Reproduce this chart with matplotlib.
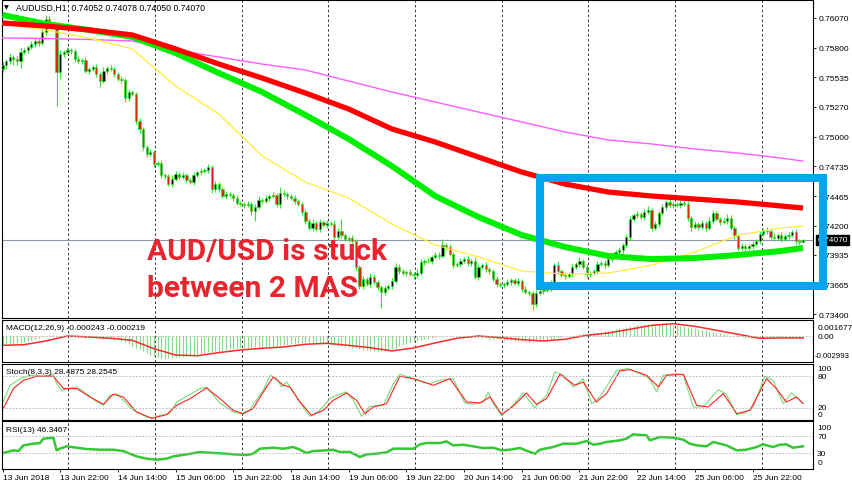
import numpy as np
import matplotlib
matplotlib.use('Agg')
import matplotlib.pyplot as plt
from matplotlib.patches import Rectangle

plt.rcParams['font.family'] = ['Liberation Sans', 'DejaVu Sans']

# ---- price data (H1 candles, bar 0 = 13 Jun 06:00) ----
first_open = 0.75610
closes = [
    0.75646, 0.75682, 0.75718, 0.75700, 0.75682, 0.75763, 0.75781, 0.75809, 0.75836, 0.75863,
    0.75845, 0.75944, 0.76061, 0.76016, 0.76007, 0.75583, 0.75745, 0.75763, 0.75781, 0.75772,
    0.75700, 0.75682, 0.75691, 0.75592, 0.75610, 0.75628, 0.75565, 0.75502, 0.75592, 0.75619,
    0.75610, 0.75565, 0.75520, 0.75511, 0.75349, 0.75403, 0.75385, 0.75142, 0.75070, 0.74908,
    0.74844, 0.74862, 0.74754, 0.74763, 0.74655, 0.74646, 0.74574, 0.74619, 0.74664, 0.74637,
    0.74655, 0.74610, 0.74592, 0.74655, 0.74682, 0.74691, 0.74700, 0.74727, 0.74529, 0.74574,
    0.74529, 0.74466, 0.74484, 0.74475, 0.74448, 0.74403, 0.74394, 0.74385, 0.74394, 0.74331,
    0.74367, 0.74430, 0.74421, 0.74448, 0.74466, 0.74475, 0.74394, 0.74493, 0.74484, 0.74466,
    0.74448, 0.74421, 0.74394, 0.74322, 0.74241, 0.74178, 0.74223, 0.74169, 0.74232, 0.74205,
    0.74223, 0.74214, 0.74097, 0.74151, 0.74115, 0.74079, 0.74088, 0.74061, 0.73826, 0.73655,
    0.73718, 0.73673, 0.73736, 0.73691, 0.73646, 0.73601, 0.73637, 0.73655, 0.73700, 0.73826,
    0.73790, 0.73772, 0.73781, 0.73763, 0.73754, 0.73772, 0.73871, 0.73880, 0.73880, 0.73917,
    0.73935, 0.73926, 0.74025, 0.74007, 0.73944, 0.73844, 0.73853, 0.73880, 0.73898, 0.73862,
    0.73880, 0.73736, 0.73826, 0.73844, 0.73808, 0.73790, 0.73718, 0.73673, 0.73664, 0.73673,
    0.73691, 0.73709, 0.73682, 0.73700, 0.73628, 0.73601, 0.73592, 0.73493, 0.73592, 0.73610,
    0.73619, 0.73637, 0.73682, 0.73844, 0.73790, 0.73754, 0.73745, 0.73763, 0.73826, 0.73853,
    0.73880, 0.73826, 0.73763, 0.73772, 0.73790, 0.73853, 0.73862, 0.73844, 0.73898, 0.73935,
    0.73962, 0.73980, 0.74025, 0.74097, 0.74259, 0.74295, 0.74304, 0.74277, 0.74322, 0.74340,
    0.74178, 0.74214, 0.74313, 0.74367, 0.74412, 0.74385, 0.74394, 0.74385, 0.74403, 0.74394,
    0.74268, 0.74187, 0.74214, 0.74187, 0.74223, 0.74178, 0.74241, 0.74313, 0.74259, 0.74232,
    0.74241, 0.74268, 0.74178, 0.74106, 0.73998, 0.74016, 0.73998, 0.74016, 0.74034, 0.74061,
    0.74124, 0.74160, 0.74151, 0.74097, 0.74088, 0.74115, 0.74079, 0.74106, 0.74115, 0.74142,
    0.74061, 0.74052, 0.74070,
]
upper_wick_pips = [
    3, 2, 4, 2, 3, 4, 2, 2, 3, 2, 3, 4, 4, 3, 2, 3, 4, 2, 3, 2,
    2, 3, 2, 3, 2, 2, 3, 2, 4, 2, 3, 2, 2, 3, 2, 3, 2, 2, 3, 2,
    2, 3, 2, 2, 3, 2, 2, 4, 3, 2, 3, 2, 2, 3, 2, 3, 2, 3, 2, 3,
    2, 2, 3, 2, 2, 3, 2, 2, 3, 2, 3, 4, 2, 3, 2, 3, 2, 5, 3, 2,
    2, 3, 2, 2, 3, 2, 4, 2, 3, 2, 3, 2, 4, 3, 11, 2, 2, 3, 2, 2,
    3, 2, 4, 3, 2, 2, 3, 2, 3, 4, 3, 2, 2, 3, 2, 4, 3, 2, 3, 2,
    3, 3, 5, 2, 3, 2, 2, 3, 2, 3, 2, 4, 3, 2, 3, 2, 2, 3, 2, 2,
    3, 2, 2, 3, 2, 3, 2, 2, 3, 2, 2, 3, 3, 2, 4, 2, 3, 2, 3, 2,
    4, 2, 3, 2, 2, 3, 2, 3, 2, 3, 2, 3, 2, 3, 3, 2, 3, 2, 3, 4,
    2, 3, 2, 3, 2, 3, 2, 2, 3, 2, 3, 2, 3, 2, 3, 2, 4, 3, 2, 2,
    3, 4, 3, 2, 2, 3, 2, 2, 3, 2, 3, 2, 3, 3, 4, 2, 3, 2, 3, 2,
    3, 2, 1,
]
lower_wick_pips = [
    3, 4, 3, 5, 4, 6, 2, 3, 2, 3, 3, 2, 3, 2, 3, 31, 6, 3, 2, 3,
    3, 2, 3, 2, 3, 2, 3, 5, 2, 3, 2, 3, 2, 3, 4, 3, 2, 3, 4, 3,
    3, 2, 3, 2, 3, 3, 2, 3, 2, 3, 2, 3, 2, 3, 2, 3, 2, 3, 4, 3,
    3, 2, 3, 2, 3, 2, 2, 3, 2, 4, 9, 2, 3, 2, 3, 2, 3, 4, 2, 3,
    2, 3, 2, 3, 3, 2, 3, 2, 3, 2, 3, 2, 3, 2, 3, 2, 3, 2, 3, 3,
    3, 2, 3, 2, 3, 14, 3, 2, 3, 2, 3, 2, 3, 2, 4, 3, 2, 3, 2, 3,
    2, 3, 2, 3, 2, 3, 2, 3, 2, 3, 3, 2, 3, 2, 3, 3, 2, 3, 2, 3,
    2, 3, 2, 3, 3, 2, 3, 5, 3, 2, 3, 2, 3, 2, 3, 2, 3, 2, 3, 2,
    3, 2, 4, 3, 2, 3, 2, 3, 2, 3, 3, 2, 3, 2, 3, 2, 3, 2, 3, 2,
    3, 2, 3, 2, 3, 2, 3, 2, 3, 2, 3, 4, 2, 3, 2, 3, 2, 3, 2, 3,
    2, 3, 2, 3, 3, 2, 3, 2, 3, 2, 3, 2, 3, 2, 3, 2, 3, 2, 3, 2,
    3, 2, 0,
]

# ---- moving averages, read every 12 bars ----
ma_bars = [0, 12, 24, 36, 48, 60, 72, 84, 96, 108, 120, 132, 144, 156, 168, 180, 192, 204, 216, 222]
ma_red = [0.76025, 0.75998, 0.75962, 0.75917, 0.75791, 0.75655, 0.75529, 0.75394, 0.75250, 0.75070,
          0.74953, 0.74817, 0.74682, 0.74574, 0.74502, 0.74466, 0.74439, 0.74412, 0.74376, 0.74358]
ma_green = [0.76097, 0.76016, 0.75962, 0.75899, 0.75754, 0.75574, 0.75403, 0.75196, 0.74980, 0.74736,
            0.74466, 0.74277, 0.74115, 0.74007, 0.73926, 0.73898, 0.73907, 0.73935, 0.73971, 0.73998]
ma_yellow = [0.76016, 0.75962, 0.75890, 0.75791, 0.75457, 0.75205, 0.74826, 0.74592, 0.74448, 0.74214,
             0.74025, 0.73917, 0.73790, 0.73763, 0.73772, 0.73844, 0.73962, 0.74115, 0.74178, 0.74196]
ma_magenta = [0.75890, 0.75885, 0.75876, 0.75863, 0.75782, 0.75718, 0.75655, 0.75601, 0.75502, 0.75403,
              0.75313, 0.75223, 0.75133, 0.75043, 0.74971, 0.74935, 0.74890, 0.74853, 0.74808, 0.74781]

# ---- MACD(12,26,9), units of 1e-5 ----
macd_hist = [
    -115, -113, -112, -105, -95, -85, -75, -63, -50, -35, -20, -5, 8, 18, 20, 15, 8, 2, -3, -6,
    -9, -12, -15, -18, -22, -25, -27, -30, -34, -38, -42, -48, -54, -65, -80, -100, -125, -150, -175, -200,
    -225, -248, -268, -283, -294, -299, -296, -290, -283, -276, -270, -262, -253, -244, -235, -226, -218, -211, -204, -197,
    -190, -184, -178, -172, -167, -163, -160, -157, -154, -151, -148, -145, -142, -138, -134, -129, -124, -119, -114, -110,
    -105, -100, -95, -91, -88, -86, -86, -88, -92, -98, -104, -110, -118, -126, -133, -140, -146, -152, -160, -170,
    -180, -188, -194, -198, -200, -198, -192, -183, -172, -152, -130, -118, -105, -92, -78, -66, -55, -42, -30, -18,
    -8, 0, 2, 4, 5, 3, 0, -3, -6, -10, -13, -16, -20, -24, -28, -32, -36, -40, -43, -45,
    -47, -52, -57, -62, -66, -69, -70, -68, -64, -58, -52, -46, -40, -30, -20, -10, 0, 7, 13, 18,
    24, 29, 34, 39, 44, 50, 57, 64, 72, 80, 93, 104, 115, 125, 134, 140, 146, 152, 158, 163,
    166, 168, 168, 167, 165, 160, 154, 147, 140, 133, 124, 115, 106, 97, 88, 80, 70, 60, 50, 40,
    30, 20, 10, 0, -8, -15, -20, -24, -26, -26, -25, -24, -23, -22, -22, -22, -22, -23, -23, -24,
    -24, -24, -24,
]
signal_bars = [0, 6, 12, 18, 24, 30, 36, 42, 48, 54, 60, 66, 72, 78, 84, 90, 96, 102, 108, 114,
               120, 126, 132, 138, 144, 150, 156, 162, 168, 174, 180, 186, 192, 198, 204, 210, 216, 222]
macd_signal = [-121, -112, -63, 4, -9, -27, -54, -165, -250, -260, -218, -183, -160, -143, -107, -94, -121, -152, -196, -156,
               -89, -27, 4, -18, -45, -63, -40, 13, 44, 93, 146, 168, 133, 80, 26, -27, -22, -22]

# ---- Stochastic(8,3,3) ----
k_bars = [0.2, 2.1, 4.9, 7.6, 11.3, 14.1, 15, 16.4, 17.8, 20.6, 23.3, 26.1, 28, 29.8, 31.7, 33.5, 36.3, 40, 41.4, 43.7,
          46.4, 48.3, 51.1, 54.8, 56.6, 58.5, 60.3, 64, 66.3, 68.6, 72.3, 74.2, 76, 77.4, 78.8, 80.6, 84.3, 85.3, 88, 90.8,
          92.6, 95.4, 97.3, 99.6, 101.9, 105.6, 108.4, 110.2, 113.9, 118.5, 121.3, 125, 128.2, 130.5, 133.3, 134.7, 136.1,
          138.4, 140.7, 144.4, 147.6, 150.9, 153.2, 155.5, 158.3, 161, 163.4, 165.7, 170.3, 173.5, 176.8, 179.5, 181.4,
          183.2, 187, 188.8, 191.6, 194.3, 198.5, 200.8, 203.6, 205.9, 208.2, 211.4, 213.7, 216.5, 218.8, 222]
k_vals = [30.9, 62.4, 75, 81.4, 79.5, 83.3, 65.6, 51.7, 56.1, 59.3, 46.7, 30.9, 24.6, 43.5, 46.7, 34, 15.1, 2.5, 0, 5.6,
          8.8, 30.9, 41.6, 56.1, 59.3, 43.5, 29, 11.9, 8.8, 16.4, 53, 81.4, 75, 59.3, 68.7, 49.8, 11.9, 3.8, 15.1, 37.2,
          43.5, 49.8, 34, 3.8, 22.7, 24.6, 65.6, 83.3, 75, 65.6, 71.9, 75, 29, 26.5, 30.9, 49.8, 27.7,
          5.6, 18.2, 47.9, 20.1, 43.5, 87.7, 81.4, 59.3, 75, 27.7, 40.3, 90.8, 94, 84.5, 75, 49.8,
          81.4, 84.5, 81.4, 21.4, 21.4, 54.2, 45.4, 7.5, 10, 21.4, 79.5, 71.9, 27.7, 47.9, 28.49]
d_bars = [0.2, 3, 5.8, 9.5, 14.1, 16.9, 20.6, 24.3, 28, 30.7, 33.5, 37.2, 41.4, 45.5, 48.3, 52, 56.6, 60.3, 64, 66.8,
          69.5, 73.2, 75.1, 77.9, 79.7, 82.5, 85.7, 89, 91.7, 95.4, 98.2, 100.5, 102.8, 106.5, 110.2, 113.9,
          119.5, 124.1, 128.7, 132.4, 135.2, 138.4, 141.6, 145.3, 148.1, 150.9, 154.6, 158.7, 161, 164.7, 167.5,
          171.2, 174, 178.6, 181.9, 184.2, 188.8, 192.5, 195.7, 199.9, 203.6, 207.3, 211.9, 214.6, 217.4, 220.2, 222]
d_vals = [18.2, 56.1, 71.9, 79.5, 79.5, 56.1, 56.1, 40.3, 26.5, 45.4, 40.3, 11.9, 0, 6.9, 24.6, 37.2, 57.4, 37.2, 15.1, 8.8,
          18.2, 59.3, 78.2, 62.4, 59.3, 30.9, 5.6, 15.1, 34, 47.9, 34, 8.8, 21.4, 27.7, 79.5, 75,
          62.4, 75, 30.9, 29, 40.3, 7.5, 22.7, 47.9, 26.5, 37.2, 83.3, 62.4, 68.7, 30.9, 46.7,
          89.6, 92.1, 81.4, 59.3, 81.4, 83.3, 24.6, 21.4, 46.7, 8.8, 15.1, 75, 56.1, 30.9, 40.3, 28.25]

# ---- RSI(13) ----
rsi_bars = [0.2, 3, 4.4, 5.8, 8.5, 10.4, 11.3, 14.1, 15, 15.9, 17.8, 20.6, 23.3, 27, 30.7, 33.5, 35.3, 37.2, 40, 42.7,
            45.5, 47.4, 51.1, 54.8, 58.5, 62.2, 64, 67.7, 69.5, 71.4, 75.1, 77.9, 80.6, 82.5, 84.3, 86.2, 89.9, 91.7, 93.6, 96.4,
            99.1, 101, 103.7, 106.5, 108.4, 113.9, 115.8, 117.6, 121.3, 123.1, 125, 127.8, 130.5, 133.3, 136.1, 138.4, 140.7,
            143.5, 146.3, 147.7, 149, 152.7, 155.5, 159.2, 162, 163.8, 165.7, 167.5, 171.2, 173, 174.9, 178.6, 179.5, 182.3,
            186, 188.8, 190.6, 192.5, 195.2, 197.1, 200.8, 203.6, 206.3, 209.1, 210.9, 213.7, 215.6, 217.4, 219.2, 222]
rsi_vals = [30.6, 36.9, 35.3, 48.6, 52.5, 54.1, 64.3, 66.7, 36.9, 40.8, 46.3, 43.1, 40, 38.4, 38.4, 35.3, 29, 22.7, 17.3, 14.9,
            17.3, 22.7, 27.5, 32.9, 30.6, 29, 27.5, 25.9, 29, 40.8, 43.1, 40.8, 44.7, 38.4, 30.6, 35.3, 36.9, 38.4, 32.9, 32.9,
            21.2, 27.5, 29, 32.2, 40.8, 40.8, 51, 54.1, 54.1, 58, 48.6, 50.2, 46.3, 42.4, 43.1, 36.9, 38.4,
            42.4, 32.9, 29, 38.4, 44.7, 52.5, 52.5, 58.8, 50.2, 52.5, 56.5, 60.4, 64.3, 74.5, 72.2, 60.4, 68.2,
            66.7, 62, 52.5, 48.6, 46.3, 56.5, 48.6, 36.9, 38.4, 44.7, 51, 44.7, 50.2, 51, 43.1, 46.35]

date_labels = ['13 Jun 2018', '13 Jun 22:00', '14 Jun 14:00', '15 Jun 06:00', '15 Jun 22:00', '18 Jun 14:00',
               '19 Jun 06:00', '19 Jun 22:00', '20 Jun 14:00', '21 Jun 06:00', '21 Jun 22:00', '22 Jun 14:00',
               '25 Jun 06:00', '25 Jun 22:00']
price_ticks = [0.76070, 0.75800, 0.75535, 0.75270, 0.75000, 0.74735, 0.74465, 0.74200, 0.73935, 0.73665, 0.73400]
last_price = 0.74070

# ---- layout (pixel boxes) ----
W, H = 852, 485


def box(x0, y0, x1, y1):
    return [x0 / W, 1 - y1 / H, (x1 - x0) / W, (y1 - y0) / H]


fig = plt.figure(figsize=(W / 100, H / 100), dpi=100)
fig.patch.set_facecolor('white')
ax = fig.add_axes(box(2, 1, 813, 319))
axm = fig.add_axes(box(2, 321, 813, 363))
axs = fig.add_axes(box(2, 365, 813, 421))
axr = fig.add_axes(box(2, 422, 813, 470))

xmin, xmax = -0.14, 224.77
grid_x = 18.25 + 24.03 * np.arange(9)
for a in (ax, axm, axs, axr):
    a.set_xlim(xmin, xmax)
    for s in a.spines.values():
        s.set_linewidth(0.8)
        s.set_color('black')
    for gx in grid_x:
        a.axvline(gx, color='#333333', lw=0.7, ls=(0, (2.5, 2.5)), zorder=0.5)
    a.tick_params(left=False, labelleft=False, bottom=False, labelbottom=False)

# ---- candles ----
c = np.array(closes)
o = np.array([first_open] + closes[:-1])
idx = np.arange(len(c))
hi = np.maximum(o, c) + np.array(upper_wick_pips) * 1e-4
lo = np.minimum(o, c) - np.array(lower_wick_pips) * 1e-4
ax.vlines(idx, lo, hi, color='#2ee82e', lw=0.8, zorder=2)
up = c >= o
body_h = np.maximum(np.abs(c - o), 0.00002)
ax.bar(idx, body_h, bottom=np.minimum(o, c), width=0.62,
       color=np.where(up, '#000000', '#d8261c'), edgecolor='#2ee82e', linewidth=0.5, zorder=3)

ax.plot(ma_bars, ma_magenta, color='#ff5cff', lw=1.0, zorder=4)
ax.plot(ma_bars, ma_yellow, color='#ffee30', lw=0.9, zorder=4)
ax.plot(ma_bars, ma_green, color='#00ee00', lw=4.3, zorder=4, solid_capstyle='butt', solid_joinstyle='round')
ax.plot(ma_bars, ma_red, color='#ff0000', lw=3.8, zorder=4, solid_capstyle='butt', solid_joinstyle='round')
ax.axhline(last_price, color='#8a98a8', lw=0.8, zorder=1)

ax.set_ylim(0.73367, 0.76232)
ax.yaxis.tick_right()
ax.set_yticks(price_ticks)
ax.set_yticklabels([f'{v:.5f}' for v in price_ticks])
ax.tick_params(axis='y', right=True, labelright=True, labelsize=6, length=2.5, width=0.6, pad=1.5)
ax.annotate(f'{last_price:.5f}', xy=(1, last_price), xycoords=('axes fraction', 'data'),
            xytext=(3, 0), textcoords='offset points', color='white', fontsize=6, va='center',
            bbox=dict(boxstyle='square,pad=0.2', fc='black', ec='black'), annotation_clip=False, zorder=6)

# ---- MACD ----
hist = np.array(macd_hist) * 1e-5
axm.vlines(idx, 0, hist, color='#86dc86', lw=0.8)
axm.plot(signal_bars, np.array(macd_signal) * 1e-5, color='#ff2a2a', lw=1.1)
axm.axhline(0, color='#b0b0b0', lw=0.6, ls=(0, (2, 2)))
axm.set_ylim(-0.003433, 0.002171)

# ---- Stochastic ----
axs.plot(k_bars, k_vals, color='#78dd78', lw=0.8)
axs.plot(d_bars, d_vals, color='#ff2222', lw=0.8)
for lv in (80, 20):
    axs.axhline(lv, color='#b0b0b0', lw=0.6, ls=(0, (2, 2)))
axs.set_ylim(-3.2, 102.7)

# ---- RSI ----
axr.plot(rsi_bars, rsi_vals, color='#35c835', lw=1.8)
for lv in (70, 30):
    axr.axhline(lv, color='#b0b0b0', lw=0.6, ls=(0, (2, 2)))
axr.set_ylim(-7, 105.9)


def side_labels(a, items, size=6, dx=3):
    for txt, val, va in items:
        a.annotate(txt, xy=(1, val), xycoords=('axes fraction', 'data'), xytext=(dx, 0),
                   textcoords='offset points', fontsize=size, va=va, annotation_clip=False)


side_labels(axm, [('0.001677', 0.001677, 'top'), ('0.00', 0, 'center')])
side_labels(axm, [('-0.002993', -0.002993, 'bottom')], size=5.6, dx=1.2)
side_labels(axs, [('100', 100, 'top'), ('80', 80, 'center'), ('20', 20, 'center'), ('0', 0, 'bottom')])
side_labels(axr, [('100', 100, 'top'), ('70', 70, 'center'), ('30', 30, 'center'), ('0', 0, 'bottom')])

axr.set_xticks(16 * np.arange(len(date_labels)))
axr.set_xticklabels(date_labels, ha='left')
axr.tick_params(axis='x', bottom=True, labelbottom=True, labelsize=6, length=2.5, width=0.6, pad=1)

# ---- texts ----
fig.text(4 / W, 1 - 8 / H, '\u25bc', fontsize=4.5, va='center', family=['DejaVu Sans'])
fig.text(16 / W, 1 - 8 / H, 'AUDUSD,H1  0.74052 0.74078 0.74050 0.74070', fontsize=6.3, va='center')
fig.text(6 / W, 1 - 329 / H, 'MACD(12,26,9) -0.000243 -0.000219', fontsize=6, va='center')
fig.text(6 / W, 1 - 373 / H, 'Stoch(8,3,3) 28.4875 28.2545', fontsize=6, va='center')
fig.text(6 / W, 1 - 431 / H, 'RSI(13) 46.3467', fontsize=6, va='center')

fig.text(147 / W, 1 - 260 / H, 'AUD/USD is stuck', fontsize=21.5, fontweight='bold',
         family=['Roboto', 'DejaVu Sans'], color='#e8252f', va='baseline')
fig.text(147 / W, 1 - 297 / H, 'between 2 MAS', fontsize=21.5, fontweight='bold',
         family=['Roboto', 'DejaVu Sans'], color='#e8252f', va='baseline')

fig.add_artist(Rectangle((540 / W, 1 - 287 / H), (823 - 540) / W, (287 - 179) / H,
                         transform=fig.transFigure, fill=False, edgecolor='#03a6ec',
                         lw=5.8, joinstyle='miter', zorder=10))

fig.savefig('out.png', dpi=100, facecolor='white')
